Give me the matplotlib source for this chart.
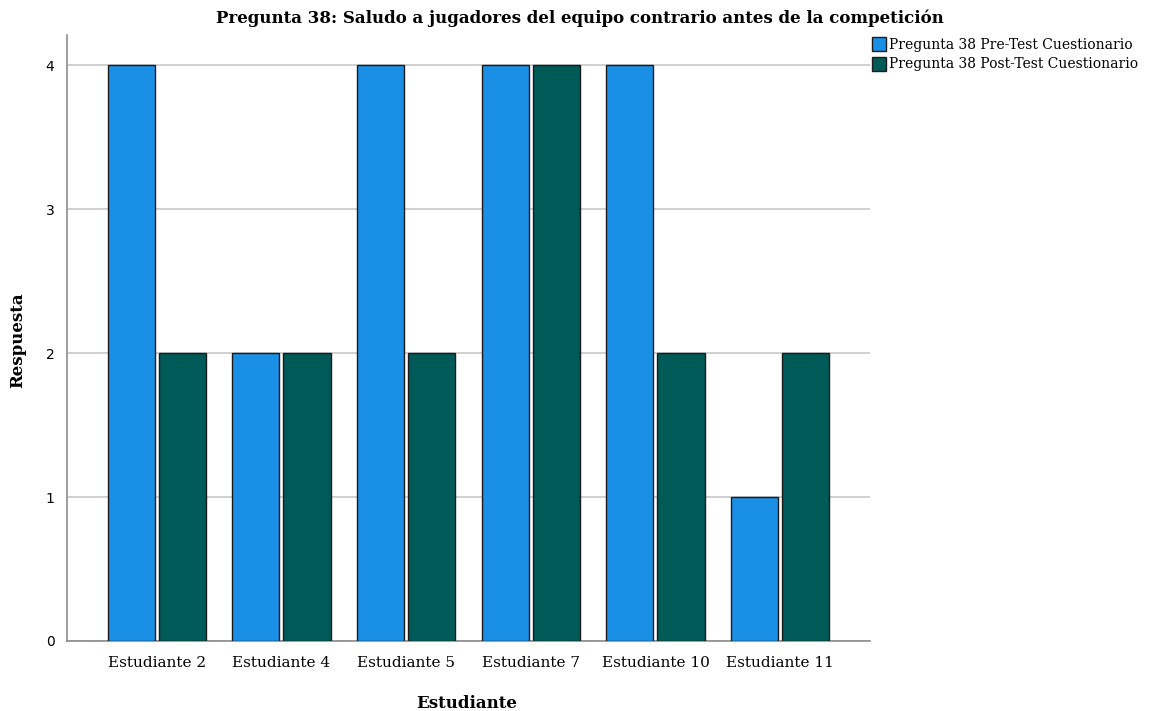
import matplotlib
matplotlib.use("Agg")
import matplotlib.pyplot as plt
import numpy as np

categories = ["Estudiante 2", "Estudiante 4", "Estudiante 5", "Estudiante 7", "Estudiante 10", "Estudiante 11"]
pre_test = [4, 2, 4, 4, 4, 1]
post_test = [2, 2, 2, 4, 2, 2]
series_labels = ["Pregunta 38 Pre-Test Cuestionario", "Pregunta 38 Post-Test Cuestionario"]
y_ticks = [0, 1, 2, 3, 4]

serif = ["DejaVu Serif"]
blue = "#1a8fe6"
green = "#005a58"

fig = plt.figure(figsize=(11.59, 7.11), dpi=100)
ax = fig.add_axes([0.0578, 0.0985, 0.6928, 0.8523])

x = np.arange(len(categories))
w = 0.378
off = 0.205
ax.bar(x - off, pre_test, w, color=blue, edgecolor="#1b1b1b", linewidth=1.0, zorder=3, label=series_labels[0])
ax.bar(x + off, post_test, w, color=green, edgecolor="#1b1b1b", linewidth=1.0, zorder=3, label=series_labels[1])

ax.set_xlim(-0.72, 5.72)
ax.set_ylim(0, 4.21)
ax.set_yticks(y_ticks)
ax.set_yticklabels([str(t) for t in y_ticks], fontsize=10, family="DejaVu Sans")
ax.set_xticks(x)
ax.set_xticklabels(categories, fontsize=11, family=serif)
ax.tick_params(axis="x", length=0, pad=11)
ax.tick_params(axis="y", length=0, pad=9)
ax.yaxis.grid(True, color="#c8c8c8", linewidth=1.2, zorder=0)
for s in ["top", "right"]:
    ax.spines[s].set_visible(False)
for s in ["left", "bottom"]:
    ax.spines[s].set_color("#8c8c8c")
    ax.spines[s].set_linewidth(1.2)

fig.text(467 / 1159, 1 - 703 / 711, "Estudiante", ha="center", va="center",
         fontsize=12, fontweight="bold", family=serif)
fig.text(18 / 1159, 1 - 340 / 711, "Respuesta", ha="center", va="center", rotation=90,
         fontsize=12, fontweight="bold", family=serif)

fig.text(0.5, 1 - 18 / 711, "Pregunta 38: Saludo a jugadores del equipo contrario antes de la competición",
         ha="center", va="center", fontsize=12, fontweight="bold", family=serif)

leg = fig.legend(loc="upper left", bbox_to_anchor=(872 / 1159, 1 - 37 / 711), frameon=False,
                 prop={"family": serif, "size": 10}, handlelength=1.0, handleheight=1.2,
                 handletextpad=0.25, labelspacing=0.35, borderaxespad=0, borderpad=0)

fig.savefig("out.png", dpi=100)
